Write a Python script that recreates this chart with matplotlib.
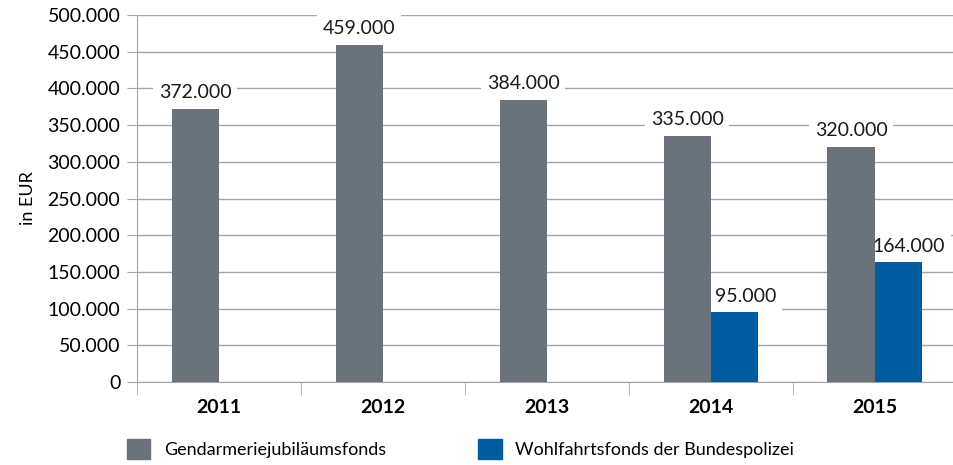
import numpy as np
import matplotlib.pyplot as plt
from matplotlib.patches import Patch

plt.rcParams['font.family'] = ['Lato', 'DejaVu Sans']

years = ['2011', '2012', '2013', '2014', '2015']
gendarmerie = [372000, 459000, 384000, 335000, 320000]
wohlfahrt = [0, 0, 0, 95000, 164000]
series_names = ['Gendarmeriejubiläumsfonds', 'Wohlfahrtsfonds der Bundespolizei']

grey = '#6a737b'
blue = '#005b9f'
grid_c = '#a6a6a6'
fs = 14


def fmt(v):
    return f'{v:,.0f}'.replace(',', '.')


fig = plt.figure(figsize=(9.54, 4.65), dpi=100)
ax = fig.add_axes([0.1436, 0.1785, 0.8590, 0.7892])

x = np.arange(len(years))
w = 0.287
ax.bar(x - w / 2, gendarmerie, w, color=grey, zorder=3)
ax.bar(x[3:] + w / 2, wohlfahrt[3:], w, color=blue, zorder=3)

# Datenbeschriftungen mit weissem Hintergrund (unter den Balken, ueber dem Gitter)
for xi, v in zip(x, gendarmerie):
    ax.annotate(fmt(v), (xi - w / 2, v), xytext=(0, 6), textcoords='offset points',
                ha='center', va='bottom', fontsize=fs, color='#1a1a1a', zorder=2,
                bbox=dict(facecolor='white', edgecolor='none', pad=4))
for xi, v in zip(x[3:], wohlfahrt[3:]):
    ax.annotate(fmt(v), (xi + w / 2, v), xytext=(8, 5), textcoords='offset points',
                ha='center', va='bottom', fontsize=fs, color='#1a1a1a', zorder=2,
                bbox=dict(facecolor='white', edgecolor='none', pad=4))

ax.set_ylim(0, 500000)
ax.set_xlim(-0.5, 4.5)
ax.set_yticks(np.arange(0, 500001, 50000))
ax.set_yticklabels([fmt(v) for v in np.arange(0, 500001, 50000)], fontsize=fs)
ax.yaxis.grid(True, color=grid_c, linewidth=1, zorder=0)
ax.tick_params(axis='y', length=7, color=grid_c, pad=5)

ax.set_xticks(x)
ax.set_xticklabels(years, fontsize=fs, fontweight='bold')
ax.set_xticks(np.arange(-0.5, 5, 1), minor=True)
ax.tick_params(axis='x', which='major', length=0, pad=12)
ax.tick_params(axis='x', which='minor', length=9, color=grid_c)

for s in ['top', 'right']:
    ax.spines[s].set_visible(False)
for s in ['left', 'bottom']:
    ax.spines[s].set_color(grid_c)

ax.set_ylabel('in EUR', fontsize=fs - 1, labelpad=8)

handles = [Patch(color=grey), Patch(color=blue)]
fig.legend(handles, series_names, loc='center left', bbox_to_anchor=(0.1331, 0.034),
           ncol=2, frameon=False, fontsize=13, handlelength=1.3, handleheight=1.3,
           columnspacing=5.1, handletextpad=0.75, borderaxespad=0, borderpad=0)

fig.savefig('out.png', dpi=100)
